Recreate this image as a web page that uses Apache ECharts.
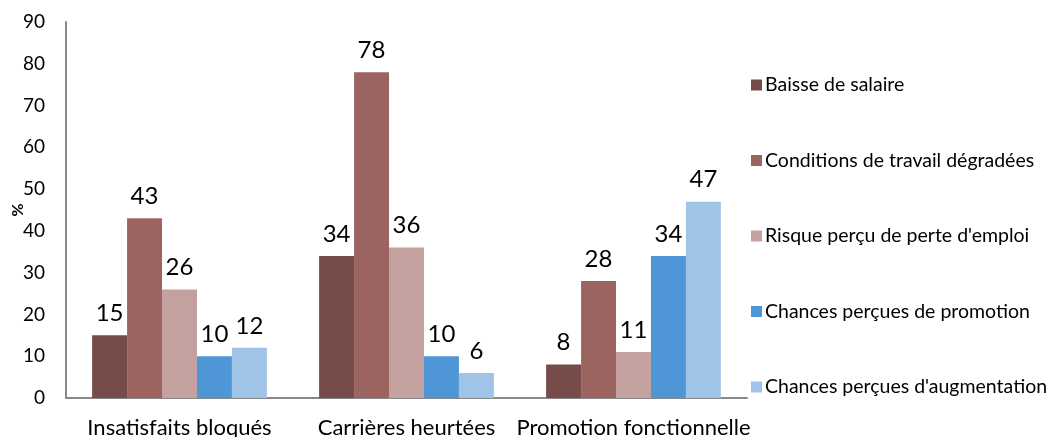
<!DOCTYPE html>
<html>
<head>
    <meta charset="utf-8">
    <title>ECharts</title>
    <script src="https://cdn.jsdelivr.net/npm/echarts@6/dist/echarts.min.js"></script>
    <style>html,body{margin:0;padding:0;background:#fff;}</style>
</head>
<body>
    <div id="main" style="width: 1054px;height:437px;"></div>
    <script type="text/javascript">
// données
var categories = ['Insatisfaits bloqués', 'Carrières heurtées', 'Promotion fonctionnelle'];
var seriesNames = ['Baisse de salaire', 'Conditions de travail dégradées', "Risque perçu de perte d'emploi",
    'Chances perçues de promotion', "Chances perçues d'augmentation"];
var baisseSalaire = [15, 34, 8];
var conditionsTravail = [43, 78, 28];
var risqueEmploi = [26, 36, 11];
var chancesPromotion = [10, 10, 34];
var chancesAugmentation = [12, 6, 47];
var yTicks = [0, 10, 20, 30, 40, 50, 60, 70, 80, 90];

var colors = ['#774b4a', '#9c6461', '#c4a09f', '#4f96d6', '#a0c4e8'];
var values = [baisseSalaire, conditionsTravail, risqueEmploi, chancesPromotion, chancesAugmentation];
var font = 'Lato, "Open Sans", sans-serif';

var myChart = echarts.init(document.getElementById('main'));

var series = seriesNames.map(function (name, i) {
    return {
        name: name,
        type: 'bar',
        data: values[i],
        barGap: '0%',
        barCategoryGap: '23%',
        itemStyle: { color: colors[i] },
        label: {
            show: true,
            position: 'top',
            distance: 10,
            color: '#000',
            fontSize: 24,
            fontFamily: font
        }
    };
});

var option = {
    animation: false,
    textStyle: { fontFamily: font },
    grid: { left: 66, right: 307, top: 22, bottom: 39, containLabel: false, outerBoundsMode: 'none' },
    legend: {
        orient: 'vertical',
        left: 746,
        top: 70,
        itemWidth: 11,
        itemHeight: 11,
        itemGap: 55.5,
        icon: 'rect',
        textStyle: { fontSize: 19.5, color: '#000', fontFamily: font, padding: [0, 0, 0, -2] },
        data: seriesNames
    },
    xAxis: {
        type: 'category',
        data: categories,
        axisLine: { lineStyle: { color: '#888', width: 2 } },
        axisTick: { show: false },
        axisLabel: { interval: 0, color: '#000', fontSize: 22, margin: 19, fontFamily: font }
    },
    yAxis: {
        type: 'value',
        min: yTicks[0],
        max: yTicks[yTicks.length - 1],
        interval: 10,
        name: '%',
        nameLocation: 'middle',
        nameGap: 40,
        nameRotate: 90,
        nameMoveOverlap: false,
        nameTextStyle: { fontWeight: 'bold', fontSize: 16, color: '#000' },
        axisLine: { show: true, lineStyle: { color: '#888', width: 2 } },
        axisTick: { show: false },
        splitLine: { show: false },
        axisLabel: { color: '#000', fontSize: 19, margin: 21, fontFamily: font }
    },
    series: series
};

myChart.setOption(option);
    </script>
</body>
</html>
